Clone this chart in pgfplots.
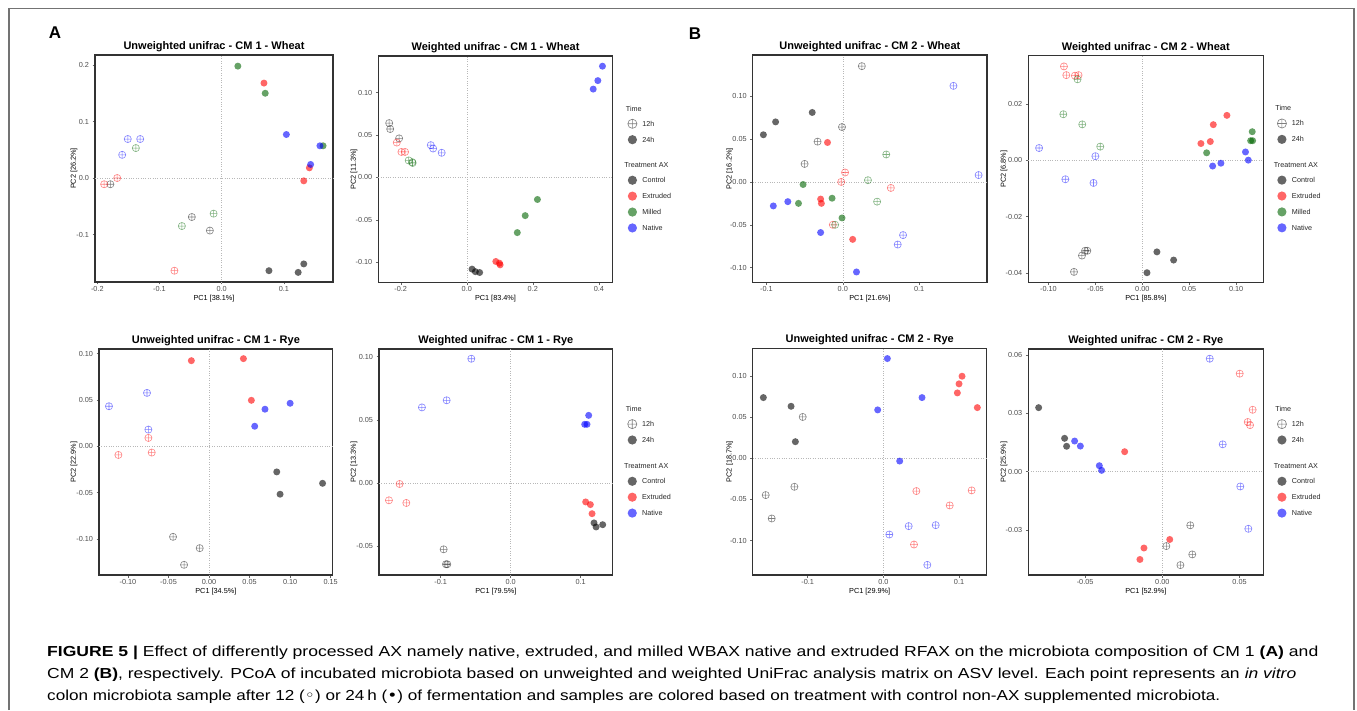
\documentclass[border=0pt]{standalone}
\usepackage{pgfplots}
\pgfplotsset{compat=1.18}
\usepackage{fontspec}
\usepackage{graphicx}
\setmainfont{Liberation Sans}
\newfontfamily\dejavu{DejaVu Sans}
\usetikzlibrary{plotmarks}

\definecolor{cctl}{HTML}{000000}
\definecolor{cext}{HTML}{FF0000}
\definecolor{cmil}{HTML}{006400}
\definecolor{cnat}{HTML}{0000FF}

\tikzset{
  lg24/.style={/tikz/only marks, mark=*, mark size=4.6pt, mark options={draw=#1, draw opacity=0, fill=#1, fill opacity=0.6}},
  lg12/.style={/tikz/only marks, mark=oplus, mark size=4.6pt, mark options={draw=#1, draw opacity=0.5, line width=0.6pt}},
}
\pgfplotsset{
  pcoa/.style={
    scale only axis, anchor=south west, clip=false, scaled ticks=false,
    axis line style={draw=black!80, line width=1.2pt},
    tick pos=left, tick align=outside, major tick length=2.5pt,
    tick style={black!60, line width=0.5pt},
    tick label style={font=\fontsize{7.3}{8}\selectfont, text=black!70},
    xticklabel style={inner sep=1.5pt},
    xlabel style={font=\fontsize{7.3}{8}\selectfont, at={(axis description cs:0.5,0)}, anchor=base, yshift=-18.1pt},
    ylabel style={font=\fontsize{7.3}{8}\selectfont},
    title style={font=\bfseries\fontsize{11}{13}\selectfont, at={(axis description cs:0.5,1)}, anchor=base, yshift=-0.4pt},
    extra x ticks={0}, extra y ticks={0},
    extra x tick labels={}, extra y tick labels={},
    extra x tick style={grid=major, major tick length=0pt},
    extra y tick style={grid=major, major tick length=0pt},
    major grid style={dotted, black!28, line width=0.5pt},
  },
  ylab/.style={ylabel style={at={(axis description cs:#1,0.5)}, anchor=base}},
  h24/.style={only marks, mark=*, mark size=3.5pt, mark options={draw=#1, draw opacity=0, fill=#1, fill opacity=0.6}},
  h12/.style={only marks, mark=oplus, mark size=3.6pt, mark options={draw=#1, draw opacity=0.5, line width=0.55pt, fill=none}},
  ttl/.style={legend image code/.code={\path[draw=none, fill=none] (0pt,-3.9pt) -- (0pt,0pt);}},
  lgaxis/.style={
    scale only axis, anchor=south west, hide axis,
    xmin=0, xmax=1, ymin=0, ymax=1,
    legend cell align=left,
    legend image code/.code={\draw[##1] plot coordinates {(0pt,0pt)};},
    legend style={anchor=north west, draw=none, fill=none, inner sep=0pt, outer sep=0pt,
      row sep=6.7pt, column sep=5.3pt, font=\fontsize{7.2}{8}\selectfont, text=black!85,
      nodes={inner sep=0pt, text height=5pt, text depth=0pt}},
  },
}
\newcommand\capline[2]{\resizebox{#1}{\height}{\fontsize{14.5}{16}\selectfont #2}}

\begin{document}
\begin{tikzpicture}[x=1pt,y=1pt]
\useasboundingbox (0,0) rectangle (1357,710);
\draw[black!55, line width=1.4pt] (9,0) -- (9,701.7) -- (1354,701.7) -- (1354,0);
\node[font=\bfseries\fontsize{17}{19}\selectfont, inner sep=0pt] at (55,677) {A};
\node[font=\bfseries\fontsize{17}{19}\selectfont, inner sep=0pt] at (695,676) {B};

% ---------- A: CM 1 Wheat, unweighted
\begin{axis}[pcoa, ylab=-0.0803, at={(95pt,428pt)}, width=238pt, height=227pt,
  xmin=-0.2037, xmax=0.179, ymin=-0.184, ymax=0.2177,
  xtick={-0.2,-0.1,0,0.1}, xticklabels={-0.2,-0.1,0.0,0.1},
  ytick={-0.1,0,0.1,0.2}, yticklabels={-0.1,0.0,0.1,0.2},
  title={Unweighted unifrac - CM 1 - Wheat}, xlabel={PC1 [38.1\%]}, ylabel={PC2 [26.2\%]}]
\addplot[h12=cctl] coordinates {(-0.179,-0.011)(-0.048,-0.069)(-0.019,-0.093)};
\addplot[h12=cext] coordinates {(-0.168,0.0)(-0.189,-0.011)(-0.076,-0.164)};
\addplot[h12=cmil] coordinates {(-0.138,0.053)(-0.013,-0.063)(-0.064,-0.085)};
\addplot[h12=cnat] coordinates {(-0.151,0.069)(-0.131,0.069)(-0.160,0.041)};
\addplot[h24=cctl] coordinates {(0.076,-0.164)(0.123,-0.167)(0.132,-0.152)};
\addplot[h24=cext] coordinates {(0.068,0.168)(0.141,0.018)(0.132,-0.005)};
\addplot[h24=cmil] coordinates {(0.026,0.198)(0.070,0.150)(0.163,0.057)};
\addplot[h24=cnat] coordinates {(0.104,0.077)(0.158,0.057)(0.143,0.024)};
\end{axis}

% ---------- A: CM 1 Wheat, weighted
\begin{axis}[pcoa, ylab=-0.0956, at={(378.3pt,427.3pt)}, width=234.4pt, height=226.7pt,
  xmin=-0.268, xmax=0.442, ymin=-0.124, ymax=0.143,
  xtick={-0.2,0,0.2,0.4}, xticklabels={-0.2,0.0,0.2,0.4},
  ytick={-0.1,-0.05,0,0.05,0.1}, yticklabels={-0.10,-0.05,0.00,0.05,0.10},
  title={Weighted unifrac - CM 1 - Wheat}, xlabel={PC1 [83.4\%]}, ylabel={PC2 [11.3\%]}]
\addplot[h12=cctl] coordinates {(-0.235,0.064)(-0.232,0.057)(-0.205,0.046)};
\addplot[h12=cext] coordinates {(-0.212,0.041)(-0.198,0.030)(-0.187,0.030)};
\addplot[h12=cmil] coordinates {(-0.176,0.020)(-0.164,0.017)(-0.165,0.018)};
\addplot[h12=cnat] coordinates {(-0.109,0.038)(-0.102,0.034)(-0.076,0.029)};
\addplot[h24=cctl] coordinates {(0.016,-0.108)(0.026,-0.111)(0.039,-0.112)};
\addplot[h24=cext] coordinates {(0.088,-0.099)(0.099,-0.101)(0.101,-0.103)};
\addplot[h24=cmil] coordinates {(0.214,-0.026)(0.177,-0.045)(0.153,-0.065)};
\addplot[h24=cnat] coordinates {(0.411,0.131)(0.397,0.114)(0.383,0.104)};
\end{axis}
\begin{axis}[lgaxis, at={(378.3pt,427.3pt)}, width=234.4pt, height=226.7pt,
  legend style={at={(axis description cs:1.0644,0.779)}}]
\addlegendimage{ttl}\addlegendentry{\hspace*{-18pt}Time}
\addlegendimage{lg12=cctl}\addlegendentry{12h}
\addlegendimage{lg24=cctl}\addlegendentry{24h}
\end{axis}
\begin{axis}[lgaxis, at={(378.3pt,427.3pt)}, width=234.4pt, height=226.7pt,
  legend style={at={(axis description cs:1.0644,0.530)}}]
\addlegendimage{ttl}\addlegendentry{\hspace*{-18pt}Treatment AX}
\addlegendimage{lg24=cctl}\addlegendentry{Control}
\addlegendimage{lg24=cext}\addlegendentry{Extruded}
\addlegendimage{lg24=cmil}\addlegendentry{Milled}
\addlegendimage{lg24=cnat}\addlegendentry{Native}
\end{axis}

% ---------- B: CM 2 Wheat, unweighted
\begin{axis}[pcoa, ylab=-0.090, at={(752.7pt,427.3pt)}, width=234.3pt, height=227.7pt,
  xmin=-0.118, xmax=0.189, ymin=-0.1175, ymax=0.148,
  xtick={-0.1,0,0.1}, xticklabels={-0.1,0.0,0.1},
  ytick={-0.1,-0.05,0,0.05,0.1}, yticklabels={-0.10,-0.05,0.00,0.05,0.10},
  title={Unweighted unifrac - CM 2 - Wheat}, xlabel={PC1 [21.6\%]}, ylabel={PC2 [16.2\%]}]
\addplot[h12=cctl] coordinates {(0.025,0.135)(-0.001,0.064)(-0.033,0.047)(-0.050,0.021)};
\addplot[h12=cext] coordinates {(0.003,0.011)(-0.002,0.000)(0.063,-0.007)(-0.013,-0.050)};
\addplot[h12=cmil] coordinates {(0.057,0.032)(0.033,0.002)(0.045,-0.023)(-0.010,-0.050)};
\addplot[h12=cnat] coordinates {(0.145,0.112)(0.178,0.008)(0.079,-0.062)(0.072,-0.073)};
\addplot[h24=cctl] coordinates {(-0.104,0.055)(-0.088,0.070)(-0.040,0.081)};
\addplot[h24=cext] coordinates {(-0.020,0.046)(-0.029,-0.020)(-0.028,-0.025)(0.013,-0.067)};
\addplot[h24=cmil] coordinates {(-0.052,-0.003)(-0.058,-0.025)(-0.014,-0.019)(-0.001,-0.042)};
\addplot[h24=cnat] coordinates {(-0.091,-0.028)(-0.072,-0.023)(-0.029,-0.059)(0.018,-0.105)};
\end{axis}

% ---------- B: CM 2 Wheat, weighted
\begin{axis}[pcoa, ylab=-0.0953, at={(1028.3pt,427.7pt)}, width=235pt, height=226.6pt,
  xmin=-0.1215, xmax=0.129, ymin=-0.0433, ymax=0.0372,
  xtick={-0.1,-0.05,0,0.05,0.1}, xticklabels={-0.10,-0.05,0.00,0.05,0.10},
  ytick={-0.04,-0.02,0,0.02}, yticklabels={-0.04,-0.02,0.00,0.02},
  title={Weighted unifrac - CM 2 - Wheat}, xlabel={PC1 [85.8\%]}, ylabel={PC2 [6.8\%]}]
\addplot[h12=cctl] coordinates {(-0.061,-0.0321)(-0.0586,-0.0321)(-0.0643,-0.0338)(-0.0728,-0.0396)};
\addplot[h12=cext] coordinates {(-0.0835,0.0334)(-0.081,0.0303)(-0.0718,0.0301)(-0.0679,0.0303)};
\addplot[h12=cmil] coordinates {(-0.069,0.0288)(-0.0842,0.0164)(-0.064,0.0128)(-0.0448,0.0049)};
\addplot[h12=cnat] coordinates {(-0.110,0.0044)(-0.050,0.0015)(-0.082,-0.0067)(-0.052,-0.008)};
\addplot[h24=cctl] coordinates {(0.0156,-0.0325)(0.0334,-0.0354)(0.005,-0.0399)};
\addplot[h24=cext] coordinates {(0.0902,0.016)(0.0757,0.0127)(0.0625,0.006)(0.0725,0.0067)};
\addplot[h24=cmil] coordinates {(0.0686,0.0027)(0.1172,0.0102)(0.1155,0.007)(0.1176,0.007)};
\addplot[h24=cnat] coordinates {(0.110,0.003)(0.113,0.0001)(0.075,-0.002)(0.0838,-0.001)};
\end{axis}
\begin{axis}[lgaxis, at={(1028.3pt,427.7pt)}, width=235pt, height=226.6pt,
  legend style={at={(axis description cs:1.0596,0.779)}}]
\addlegendimage{ttl}\addlegendentry{\hspace*{-18pt}Time}
\addlegendimage{lg12=cctl}\addlegendentry{12h}
\addlegendimage{lg24=cctl}\addlegendentry{24h}
\end{axis}
\begin{axis}[lgaxis, at={(1028.3pt,427.7pt)}, width=235pt, height=226.6pt,
  legend style={at={(axis description cs:1.0596,0.529)}}]
\addlegendimage{ttl}\addlegendentry{\hspace*{-18pt}Treatment AX}
\addlegendimage{lg24=cctl}\addlegendentry{Control}
\addlegendimage{lg24=cext}\addlegendentry{Extruded}
\addlegendimage{lg24=cmil}\addlegendentry{Milled}
\addlegendimage{lg24=cnat}\addlegendentry{Native}
\end{axis}

% ---------- A: CM 1 Rye, unweighted
\begin{axis}[pcoa, ylab=-0.0988, at={(99pt,135pt)}, width=233.7pt, height=226pt,
  xmin=-0.1357, xmax=0.1525, ymin=-0.139, ymax=0.105,
  xtick={-0.1,-0.05,0,0.05,0.1,0.15}, xticklabels={-0.10,-0.05,0.00,0.05,0.10,0.15},
  ytick={-0.1,-0.05,0,0.05,0.1}, yticklabels={-0.10,-0.05,0.00,0.05,0.10},
  title={Unweighted unifrac - CM 1 - Rye}, xlabel={PC1 [34.5\%]}, ylabel={PC2 [22.9\%]}]
\addplot[h12=cctl] coordinates {(-0.0444,-0.0978)(-0.0115,-0.110)(-0.0308,-0.128)};
\addplot[h12=cext] coordinates {(-0.0748,0.009)(-0.1118,-0.0094)(-0.0707,-0.0068)};
\addplot[h12=cnat] coordinates {(-0.1234,0.0432)(-0.0765,0.0576)(-0.0748,0.018)};
\addplot[h24=cctl] coordinates {(0.0835,-0.0277)(0.0876,-0.0518)(0.140,-0.040)};
\addplot[h24=cext] coordinates {(-0.0218,0.0924)(0.0424,0.0946)(0.0522,0.0496)};
\addplot[h24=cnat] coordinates {(0.069,0.040)(0.100,0.0464)(0.0563,0.0216)};
\end{axis}

% ---------- A: CM 1 Rye, weighted
\begin{axis}[pcoa, ylab=-0.0988, at={(379pt,135pt)}, width=233.7pt, height=226pt,
  xmin=-0.188, xmax=0.1457, ymin=-0.0728, ymax=0.106,
  xtick={-0.1,0,0.1}, xticklabels={-0.1,0.0,0.1},
  ytick={-0.05,0,0.05,0.1}, yticklabels={-0.05,0.00,0.05,0.10},
  title={Weighted unifrac - CM 1 - Rye}, xlabel={PC1 [79.5\%]}, ylabel={PC2 [13.3\%]}]
\addplot[h12=cctl] coordinates {(-0.0957,-0.0525)(-0.0924,-0.0643)(-0.0905,-0.0643)};
\addplot[h12=cext] coordinates {(-0.1586,-0.0008)(-0.1738,-0.0137)(-0.149,-0.0158)};
\addplot[h12=cnat] coordinates {(-0.0562,0.0983)(-0.0914,0.0654)(-0.1267,0.0598)};
\addplot[h24=cctl] coordinates {(0.119,-0.0316)(0.122,-0.0348)(0.1314,-0.033)};
\addplot[h24=cext] coordinates {(0.1071,-0.015)(0.1138,-0.0171)(0.1162,-0.0243)};
\addplot[h24=cnat] coordinates {(0.1114,0.0535)(0.1057,0.0464)(0.109,0.0464)};
\end{axis}
\begin{axis}[lgaxis, at={(379pt,135pt)}, width=233.7pt, height=226pt,
  legend style={at={(axis description cs:1.064,0.746)}}]
\addlegendimage{ttl}\addlegendentry{\hspace*{-18pt}Time}
\addlegendimage{lg12=cctl}\addlegendentry{12h}
\addlegendimage{lg24=cctl}\addlegendentry{24h}
\end{axis}
\begin{axis}[lgaxis, at={(379pt,135pt)}, width=233.7pt, height=226pt,
  legend style={at={(axis description cs:1.064,0.493)}}]
\addlegendimage{ttl}\addlegendentry{\hspace*{-18pt}Treatment AX}
\addlegendimage{lg24=cctl}\addlegendentry{Control}
\addlegendimage{lg24=cext}\addlegendentry{Extruded}
\addlegendimage{lg24=cnat}\addlegendentry{Native}
\end{axis}

% ---------- B: CM 2 Rye, unweighted
\begin{axis}[pcoa, ylab=-0.0902, at={(752.7pt,135pt)}, width=234pt, height=226.7pt,
  xmin=-0.1727, xmax=0.1366, ymin=-0.142, ymax=0.134,
  xtick={-0.1,0,0.1}, xticklabels={-0.1,0.0,0.1},
  ytick={-0.1,-0.05,0,0.05,0.1}, yticklabels={-0.10,-0.05,0.00,0.05,0.10},
  title={Unweighted unifrac - CM 2 - Rye}, xlabel={PC1 [29.9\%]}, ylabel={PC2 [18.7\%]}]
\addplot[h12=cctl] coordinates {(-0.1066,0.0504)(-0.1176,-0.0346)(-0.1555,-0.0447)(-0.1476,-0.0732)};
\addplot[h12=cext] coordinates {(0.0436,-0.0398)(0.1167,-0.039)(0.0877,-0.0573)(0.0405,-0.1049)};
\addplot[h12=cnat] coordinates {(0.0335,-0.0825)(0.0692,-0.0813)(0.0079,-0.0927)(0.0581,-0.1297)};
\addplot[h24=cctl] coordinates {(-0.1586,0.074)(-0.122,0.0634)(-0.1163,0.0203)};
\addplot[h24=cext] coordinates {(0.104,0.100)(0.100,0.0907)(0.0978,0.0797)(0.1242,0.0618)};
\addplot[h24=cnat] coordinates {(0.0053,0.1215)(-0.0075,0.059)(0.0511,0.074)(0.0216,-0.0033)};
\end{axis}

% ---------- B: CM 2 Rye, weighted
\begin{axis}[pcoa, ylab=-0.0953, at={(1028.3pt,135pt)}, width=235pt, height=226pt,
  xmin=-0.0868, xmax=0.0654, ymin=-0.0532, ymax=0.0632,
  xtick={-0.05,0,0.05}, xticklabels={-0.05,0.00,0.05},
  ytick={-0.03,0,0.03,0.06}, yticklabels={-0.03,0.00,0.03,0.06},
  title={Weighted unifrac - CM 2 - Rye}, xlabel={PC1 [52.9\%]}, ylabel={PC2 [25.9\%]}]
\addplot[h12=cctl] coordinates {(0.0181,-0.0276)(0.0026,-0.0383)(0.0194,-0.0426)(0.0117,-0.0481)};
\addplot[h12=cext] coordinates {(0.0501,0.0505)(0.0585,0.0319)(0.0553,0.0256)(0.0568,0.024)};
\addplot[h12=cnat] coordinates {(0.0307,0.0582)(0.0391,0.0141)(0.0505,-0.0076)(0.0557,-0.0294)};
\addplot[h24=cctl] coordinates {(-0.0801,0.033)(-0.0633,0.0172)(-0.062,0.0131)};
\addplot[h24=cext] coordinates {(-0.0244,0.0103)(0.0048,-0.0349)(-0.0119,-0.0393)(-0.0145,-0.0452)};
\addplot[h24=cnat] coordinates {(-0.0568,0.0158)(-0.0531,0.0132)(-0.0408,0.0031)(-0.0393,0.0007)};
\end{axis}
\begin{axis}[lgaxis, at={(1028.3pt,135pt)}, width=235pt, height=226pt,
  legend style={at={(axis description cs:1.0596,0.746)}}]
\addlegendimage{ttl}\addlegendentry{\hspace*{-18pt}Time}
\addlegendimage{lg12=cctl}\addlegendentry{12h}
\addlegendimage{lg24=cctl}\addlegendentry{24h}
\end{axis}
\begin{axis}[lgaxis, at={(1028.3pt,135pt)}, width=235pt, height=226pt,
  legend style={at={(axis description cs:1.0596,0.493)}}]
\addlegendimage{ttl}\addlegendentry{\hspace*{-18pt}Treatment AX}
\addlegendimage{lg24=cctl}\addlegendentry{Control}
\addlegendimage{lg24=cext}\addlegendentry{Extruded}
\addlegendimage{lg24=cnat}\addlegendentry{Native}
\end{axis}

% ---------- caption
\node[anchor=base west, inner sep=0pt] at (47,54) {\capline{1271pt}{\textbf{FIGURE 5 |} Effect of differently processed AX namely native, extruded, and milled WBAX native and extruded RFAX on the microbiota composition of CM 1 \textbf{(A)} and}};
\node[anchor=base west, inner sep=0pt] at (47,32) {\capline{1249pt}{CM 2 \textbf{(B)}, respectively. PCoA of incubated microbiota based on unweighted and weighted UniFrac analysis matrix on ASV level. Each point represents an \textit{in vitro}}};
\node[anchor=base west, inner sep=0pt] at (47,10) {\capline{1173pt}{colon microbiota sample after 12 ({\dejavu ◦}) or 24\,h ({\dejavu •}) of fermentation and samples are colored based on treatment with control non-AX supplemented microbiota.}};
\end{tikzpicture}
\end{document}
